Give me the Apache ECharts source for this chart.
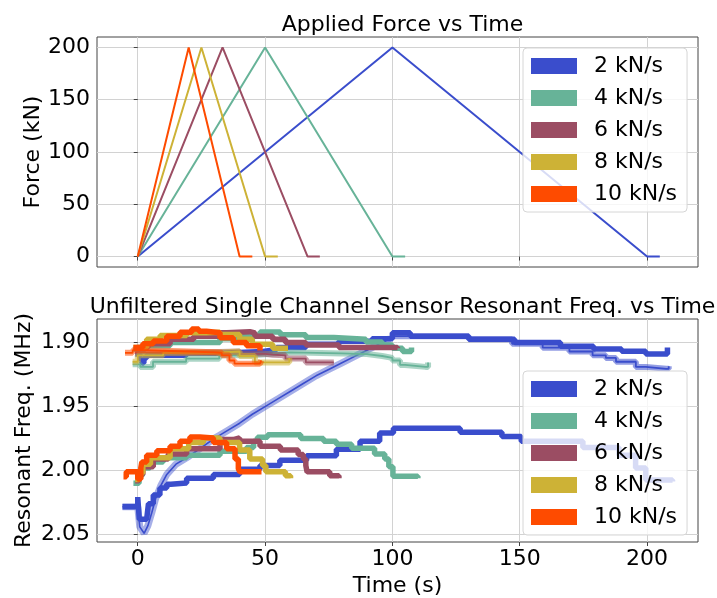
<!DOCTYPE html>
<html>
<head>
<meta charset="utf-8">
<script src="https://cdn.jsdelivr.net/npm/echarts@6/dist/echarts.min.js"></script>
<style>html,body{margin:0;padding:0;background:#fff;}#c{width:717px;height:598px;}</style>
</head>
<body>
<div id="c"></div>
<script>
// ---------- data ----------
const rates = ['2 kN/s', '4 kN/s', '6 kN/s', '8 kN/s', '10 kN/s'];
const colors = ['#3a4dcc', '#67b398', '#9b4d63', '#cdb236', '#fe4b00'];
const timeTicks = [0, 50, 100, 150, 200];
const forceTicks = [0, 50, 100, 150, 200];
const freqTicks = [1.90, 1.95, 2.00, 2.05];

// applied force (kN) vs time (s)
const force2 = [[0, 0], [100, 200], [200, 0], [205, 0]];
const force4 = [[0, 0], [50, 200], [100, 0], [105, 0]];
const force6 = [[0, 0], [33.3, 200], [66.7, 0], [71.5, 0]];
const force8 = [[0, 0], [25, 200], [50, 0], [55, 0]];
const force10 = [[0, 0], [20, 200], [40, 0], [45, 0]];

// resonant frequency (MHz) vs time (s)
const blueLow = [[-6, 2.0283], [0, 2.0207], [0.6, 2.038], [3.5, 2.038], [4.2, 2.026], [6.1, 2.019], [8.7, 2.0136], [11.4, 2.0106], [13, 2.0098], [19.2, 2.006], [29.7, 2.003], [40, 1.999], [48, 1.996], [55.8, 1.992], [66.3, 1.9884], [78, 1.9833], [87.3, 1.977], [95, 1.9707], [100.4, 1.967], [126.6, 1.970], [143, 1.9733], [150.6, 1.977], [174.8, 1.982], [189, 1.988], [195.5, 1.998], [199.5, 2.0073], [210, 2.0086]];
const blueUp = [[-1, 1.909], [0.8, 1.913], [1.6, 1.916], [2.4, 1.912], [3.5, 1.910], [19.2, 1.9083], [32.3, 1.907], [49.3, 1.9055], [54.5, 1.9038], [66, 1.9013], [79, 1.899], [92, 1.897], [100, 1.8924], [107, 1.895], [130, 1.8975], [148, 1.90], [166, 1.9028], [179, 1.905], [190, 1.9068], [199.5, 1.9089], [208, 1.9038]];
const blueDiag = [[-6, 2.0283], [0, 2.0283], [0.8, 2.044], [2.5, 2.049], [4, 2.043], [5.5, 2.033], [7, 2.022], [9, 2.012], [11.4, 2.003], [15, 1.995], [20, 1.989], [25, 1.982], [30, 1.975], [35, 1.969], [40, 1.963], [45, 1.956], [50, 1.950], [55, 1.944], [60, 1.938], [65, 1.932], [70, 1.926], [75, 1.921], [80, 1.916], [85, 1.911], [90, 1.906], [95, 1.901], [99, 1.897]];
const blueTail = [[99, 1.895], [130, 1.8975], [147, 1.901], [159, 1.904], [169.5, 1.907], [178.6, 1.910], [183.8, 1.912], [187.8, 1.915], [195.6, 1.919], [199.5, 1.9205], [207.5, 1.9205], [208.5, 1.9185]];

const tealLow = [[-1.7, 2.010], [0.5, 2.004], [1.8, 1.998], [4.8, 1.9934], [10, 1.990], [19.2, 1.988], [32.3, 1.985], [42.7, 1.982], [45.5, 1.977], [47, 1.974], [51, 1.972], [64, 1.975], [73, 1.977], [78, 1.9795], [84, 1.9825], [93, 1.987], [97, 1.991], [98.6, 1.997], [100.2, 2.0045], [110, 2.006]];
const tealUp = [[-1.7, 1.905], [3, 1.9025], [12.7, 1.90], [32.3, 1.897], [40, 1.895], [48, 1.8917], [56, 1.894], [66, 1.896], [77, 1.8975], [89.6, 1.8995], [96, 1.902], [100, 1.9045], [104, 1.907], [107.5, 1.9038]];
const tealCross = [[-2, 1.917], [1, 1.919], [6, 1.915], [19, 1.9126], [32, 1.910], [45, 1.9085], [53.7, 1.9076], [60, 1.9085], [80, 1.909], [90, 1.9105], [96, 1.912], [100, 1.914], [103, 1.9175], [105, 1.919], [113, 1.919], [114, 1.9155]];

const purpleLow = [[-1, 2.008], [0.5, 2.003], [2, 1.997], [6.1, 1.991], [12, 1.987], [19.2, 1.983], [32.3, 1.9758], [37.5, 1.9745], [40, 1.977], [48, 1.981], [56, 1.984], [63, 1.9875], [65, 1.991], [66, 1.996], [66.5, 2.001], [75.4, 2.004], [79, 2.006]];
const purpleUp = [[-0.4, 1.9038], [4, 1.901], [12.7, 1.8975], [22, 1.895], [32.3, 1.8924], [35, 1.8915], [44, 1.8925], [46, 1.895], [53, 1.8975], [58, 1.90], [66, 1.902], [79, 1.9038], [102, 1.9045]];
const purpleCross = [[-1, 1.908], [20, 1.907], [40, 1.9088], [50, 1.9095], [53, 1.910], [58, 1.9125], [66, 1.9155], [77, 1.9155]];

const yellowLow = [[-1, 2.007], [0.5, 2.002], [2, 1.995], [5, 1.990], [12.7, 1.983], [20, 1.978], [25.8, 1.9745], [32.3, 1.978], [40, 1.984], [44, 1.991], [49, 1.996], [50.3, 2.001], [58, 2.004], [60, 2.006]];
const yellowUp = [[-1.7, 1.9038], [3.5, 1.8975], [8.8, 1.8944], [19.2, 1.8924], [27, 1.892], [32.3, 1.8937], [40, 1.8975], [45, 1.9013], [53, 1.9045], [59, 1.9045]];
const yellowCross = [[-2, 1.915], [0, 1.910], [10, 1.908], [30, 1.907], [40, 1.9105], [46, 1.9155], [58.4, 1.9155], [59.5, 1.912]];

const orangeLow = [[-5.6, 2.0048], [-4.5, 2.001], [0, 2.0065], [1.2, 1.998], [1.6, 1.9934], [3.5, 1.988], [7.5, 1.9846], [12.7, 1.981], [16.6, 1.977], [20.5, 1.9737], [24.4, 1.9745], [29.7, 1.978], [34.9, 1.983], [38.2, 1.991], [39.5, 1.9985], [40.1, 2.001], [48.6, 2.001]];
const orangeUp = [[-1.7, 1.9038], [2, 1.901], [6.1, 1.8987], [11.4, 1.895], [16.6, 1.892], [21.2, 1.8894], [24, 1.8912], [27, 1.8924], [32.3, 1.8962], [37.5, 1.90], [42.7, 1.9025], [48, 1.9063]];
const orangeCross = [[-5, 1.908], [-2, 1.906], [3, 1.907], [20, 1.9076], [30, 1.908], [33, 1.910], [36, 1.914], [38, 1.9165], [48, 1.9165], [48.5, 1.914]];

// ---------- chart ----------
const FONT = 'DejaVu Sans';
const forceSets = [force2, force4, force6, force8, force10];
const freqSets = [
  {low: blueLow, up: blueUp, cross: blueTail, diag: blueDiag},
  {low: tealLow, up: tealUp, cross: tealCross},
  {low: purpleLow, up: purpleUp, cross: purpleCross},
  {low: yellowLow, up: yellowUp, cross: yellowCross},
  {low: orangeLow, up: orangeUp, cross: orangeCross}
];

function hexA(hex, a) {
  const n = parseInt(hex.slice(1), 16);
  return 'rgba(' + ((n >> 16) & 255) + ',' + ((n >> 8) & 255) + ',' + (n & 255) + ',' + a + ')';
}

const series = [];
forceSets.forEach((d, i) => {
  series.push({
    type: 'line', name: rates[i], xAxisIndex: 0, yAxisIndex: 0, data: d,
    symbol: 'none', showSymbol: false, z: 2 + i * 0.1,
    lineStyle: {color: colors[i], width: 2}, itemStyle: {color: colors[i]}
  });
});
freqSets.forEach((s, i) => {
  const c = colors[i];
  const base = {type: 'line', name: rates[i], xAxisIndex: 1, yAxisIndex: 1, symbol: 'none', showSymbol: false, itemStyle: {color: c}};
  const z = 2 + i * 0.1;
  series.push(Object.assign({}, base, {data: s.low, step: 'end', z: z, lineStyle: {color: c, width: 5.5}}));
  series.push(Object.assign({}, base, {data: s.up, step: 'end', z: z, lineStyle: {color: c, width: 5.5}}));
  series.push(Object.assign({}, base, {data: s.cross, step: 'end', z: z, lineStyle: {color: hexA(c, 0.55), width: 6}}));
  series.push(Object.assign({}, base, {data: s.cross, step: 'end', z: z, lineStyle: {color: c, width: 1.8}}));
  if (s.diag) {
    series.push(Object.assign({}, base, {data: s.diag, z: z, lineStyle: {color: hexA(c, 0.45), width: 7}}));
    series.push(Object.assign({}, base, {data: s.diag, z: z, lineStyle: {color: c, width: 1.6}}));
  }
});

const tickStyle = {show: true, inside: false, length: 4, lineStyle: {color: '#444', width: 1}};
const splitStyle = {show: true, lineStyle: {color: '#d2d2d2', width: 1}};
const labelBase = {color: '#000', fontSize: 22, fontFamily: FONT};
const nameStyle = {color: '#000', fontSize: 22, fontFamily: FONT};

function legendAt(top) {
  return {
    orient: 'vertical', left: 523, top: top, data: rates,
    icon: 'rect', itemWidth: 46, itemHeight: 16, itemGap: 10,
    padding: [7, 10, 7, 8],
    backgroundColor: 'rgba(255,255,255,0.8)', borderColor: '#d6d6d6', borderWidth: 1, borderRadius: 4,
    textStyle: {color: '#000', fontSize: 22, fontFamily: FONT, padding: [0, 0, 0, 12]},
    selectedMode: false
  };
}

const option = {
  animation: false,
  backgroundColor: '#fff',
  textStyle: {fontFamily: FONT},
  title: [
    {text: 'Applied Force vs Time', left: 397.5, top: 9, textAlign: 'center',
     textStyle: {fontSize: 22, fontWeight: 'normal', color: '#000', fontFamily: FONT}},
    {text: 'Unfiltered Single Channel Sensor Resonant Freq. vs Time', left: 397.5, top: 291, textAlign: 'center',
     textStyle: {fontSize: 22, fontWeight: 'normal', color: '#000', fontFamily: FONT}}
  ],
  legend: [legendAt(48), legendAt(371)],
  grid: [
    {left: 97, top: 37, width: 601, height: 230, show: true, borderColor: '#444', borderWidth: 1, backgroundColor: 'transparent'},
    {left: 97, top: 319, width: 601, height: 230, show: true, borderColor: '#444', borderWidth: 1, backgroundColor: 'transparent'}
  ],
  xAxis: [
    {type: 'value', gridIndex: 0, min: -16, max: 220,
     axisLine: {show: false}, axisTick: Object.assign({customValues: timeTicks}, tickStyle),
     axisLabel: {show: false, customValues: timeTicks}, splitLine: splitStyle},
    {type: 'value', gridIndex: 1, min: -16, max: 220,
     name: 'Time (s)', nameLocation: 'middle', nameGap: 33, nameMoveOverlap: false,
     nameTextStyle: nameStyle,
     axisLine: {show: false}, axisTick: Object.assign({customValues: timeTicks}, tickStyle),
     axisLabel: Object.assign({customValues: timeTicks, margin: 6}, labelBase), splitLine: splitStyle}
  ],
  yAxis: [
    {type: 'value', gridIndex: 0, min: -10, max: 210,
     name: 'Force (kN)', nameLocation: 'middle', nameGap: 53, nameMoveOverlap: false,
     nameTextStyle: nameStyle,
     axisLine: {show: false}, axisTick: Object.assign({customValues: forceTicks}, tickStyle),
     axisLabel: Object.assign({customValues: forceTicks, margin: 7}, labelBase), splitLine: splitStyle},
    {type: 'value', gridIndex: 1, min: 1.8816, max: 2.0558, inverse: true,
     name: 'Resonant Freq. (MHz)', nameLocation: 'middle', nameGap: 62, nameMoveOverlap: false,
     nameTextStyle: nameStyle,
     axisLine: {show: false}, axisTick: Object.assign({customValues: freqTicks}, tickStyle),
     axisLabel: Object.assign({customValues: freqTicks, margin: 7, formatter: v => v.toFixed(2)}, labelBase),
     splitLine: splitStyle}
  ],
  series: series
};

const chart = echarts.init(document.getElementById('c'), null, {renderer: 'canvas'});
chart.setOption(option);
</script>
</body>
</html>
